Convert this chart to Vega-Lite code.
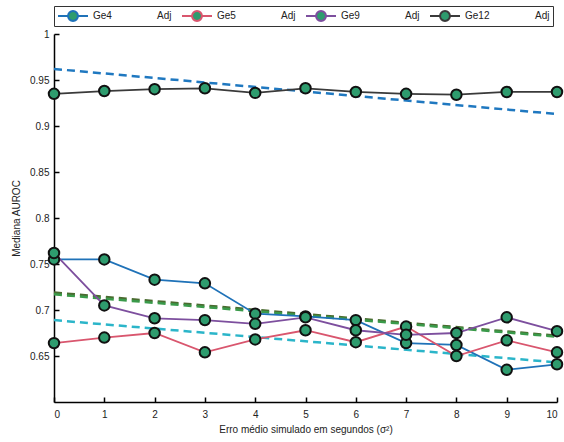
{
  "$schema": "https://vega.github.io/schema/vega-lite/v6.json",
  "width": 503,
  "height": 368,
  "padding": {"left": 11, "top": 5, "right": 6, "bottom": 5},
  "background": "white",
  "config": {
    "font": "Liberation Sans",
    "view": {"stroke": null},
    "axis": {"grid": false, "domainColor": "black", "domainWidth": 1.5, "tickColor": "black", "tickWidth": 1.5, "tickSize": -5, "labelColor": "#222", "titleColor": "#222", "labelFontSize": 10, "titleFontSize": 10, "titleFontWeight": "normal"}
  },
  "data": {"values": [
    {"x":0,"s":"Ge4","v":0.755},{"x":1,"s":"Ge4","v":0.755},{"x":2,"s":"Ge4","v":0.733},{"x":3,"s":"Ge4","v":0.729},{"x":4,"s":"Ge4","v":0.696},{"x":5,"s":"Ge4","v":0.693},{"x":6,"s":"Ge4","v":0.689},{"x":7,"s":"Ge4","v":0.664},{"x":8,"s":"Ge4","v":0.662},{"x":9,"s":"Ge4","v":0.635},{"x":10,"s":"Ge4","v":0.641},
    {"x":0,"s":"Ge5","v":0.664},{"x":1,"s":"Ge5","v":0.670},{"x":2,"s":"Ge5","v":0.675},{"x":3,"s":"Ge5","v":0.654},{"x":4,"s":"Ge5","v":0.668},{"x":5,"s":"Ge5","v":0.678},{"x":6,"s":"Ge5","v":0.665},{"x":7,"s":"Ge5","v":0.682},{"x":8,"s":"Ge5","v":0.650},{"x":9,"s":"Ge5","v":0.667},{"x":10,"s":"Ge5","v":0.654},
    {"x":0,"s":"Ge9","v":0.762},{"x":1,"s":"Ge9","v":0.705},{"x":2,"s":"Ge9","v":0.691},{"x":3,"s":"Ge9","v":0.689},{"x":4,"s":"Ge9","v":0.685},{"x":5,"s":"Ge9","v":0.692},{"x":6,"s":"Ge9","v":0.678},{"x":7,"s":"Ge9","v":0.673},{"x":8,"s":"Ge9","v":0.675},{"x":9,"s":"Ge9","v":0.692},{"x":10,"s":"Ge9","v":0.677},
    {"x":0,"s":"Ge12","v":0.935},{"x":1,"s":"Ge12","v":0.938},{"x":2,"s":"Ge12","v":0.940},{"x":3,"s":"Ge12","v":0.941},{"x":4,"s":"Ge12","v":0.936},{"x":5,"s":"Ge12","v":0.941},{"x":6,"s":"Ge12","v":0.937},{"x":7,"s":"Ge12","v":0.935},{"x":8,"s":"Ge12","v":0.934},{"x":9,"s":"Ge12","v":0.937},{"x":10,"s":"Ge12","v":0.937},
    {"x":0,"s":"Ge4 Adj","v":0.689},{"x":10,"s":"Ge4 Adj","v":0.643},
    {"x":0,"s":"Ge5 Adj","v":0.719},{"x":10,"s":"Ge5 Adj","v":0.672},
    {"x":0,"s":"Ge9 Adj","v":0.717},{"x":10,"s":"Ge9 Adj","v":0.671},
    {"x":0,"s":"Ge12 Adj","v":0.962},{"x":10,"s":"Ge12 Adj","v":0.913}
  ]},
  "encoding": {
    "x": {"field": "x", "type": "quantitative", "scale": {"domain": [0, 10], "nice": false},
      "axis": {"values": [0,1,2,3,4,5,6,7,8,9,10], "title": "Erro médio simulado em segundos (σ²)", "titlePadding": 5, "labelPadding": 12}},
    "y": {"field": "v", "type": "quantitative", "scale": {"domain": [0.6, 1], "nice": false, "zero": false},
      "axis": {"values": [0.65,0.7,0.75,0.8,0.85,0.9,0.95,1], "labelExpr": "'' + datum.value", "title": "Mediana AUROC", "titlePadding": 8, "labelPadding": 10}},
    "color": {"field": "s", "type": "nominal",
      "scale": {"domain": ["Ge4","Ge4 Adj","Ge5","Ge5 Adj","Ge9","Ge9 Adj","Ge12","Ge12 Adj"],
                "range": ["#1f72b8","#2bb5c9","#d9566e","#4a6b30","#7d4f9e","#3a9a4a","#3a3a3a","#1f78c0"]},
      "legend": {"orient": "top", "direction": "horizontal", "columns": 8, "title": null, "gridAlign": "none",
        "values": ["Ge4","Ge4 Adj","Ge5","Ge5 Adj","Ge9","Ge9 Adj","Ge12","Ge12 Adj"],
        "labelExpr": "indexof(datum.label, 'Adj') >= 0 ? 'Adj' : datum.label",
        "symbolType": "M-1,0L-0.33,0M0.33,0L1,0M0.33,0A0.33,0.33,0,1,1,-0.33,0A0.33,0.33,0,1,1,0.33,0Z",
        "symbolSize": 900, "symbolStrokeWidth": 2, "symbolFillColor": "#2e9c6e", "symbolDash": [],
        "labelFontSize": 10, "labelColor": "#222", "columnPadding": 9, "clipHeight": 14,
        "strokeColor": "#333", "padding": 3, "offset": 8, "labelOffset": 4,
        "encode": {"symbols": {"update": {"opacity": {"signal": "indexof(datum.value, 'Adj') >= 0 ? 0 : 1"}, "fill": {"value": "#2e9c6e"}, "strokeDash": {"value": []}}}}}}
  },
  "layer": [
    {
      "transform": [{"filter": "indexof(datum.s, 'Adj') >= 0"}],
      "mark": {"type": "line", "strokeDash": [8, 5], "strokeWidth": 2.5}
    },
    {
      "transform": [{"filter": "indexof(datum.s, 'Adj') < 0"}],
      "mark": {"type": "line", "strokeWidth": 1.8}
    },
    {
      "transform": [{"filter": "indexof(datum.s, 'Adj') < 0"}],
      "mark": {"type": "point", "filled": true, "fill": "#2e9c6e", "stroke": "#111", "strokeWidth": 2, "size": 110, "opacity": 1},
      "encoding": {"color": {"value": "#111"}}
    }
  ]
}
